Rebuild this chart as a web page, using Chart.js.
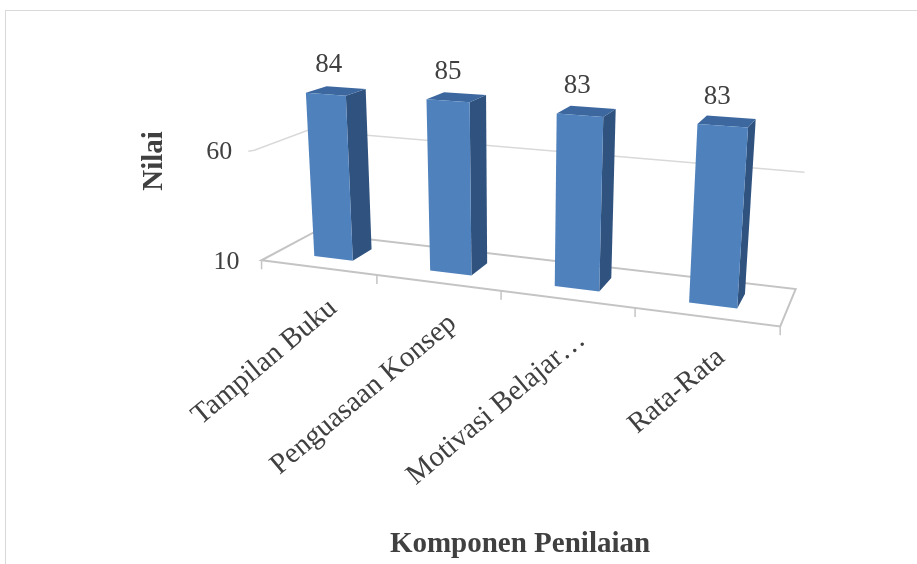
<!DOCTYPE html>
<html>
<head>
<meta charset="utf-8">
<script src="https://cdn.jsdelivr.net/npm/chart.js@4.4.1/dist/chart.umd.min.js"></script>
<style>
    html, body { margin: 0; padding: 0; background: #fff; }
    #wrap { width: 917px; height: 564px; }
</style>
</head>
<body>
<div id="wrap"><canvas id="chart" width="917" height="564"></canvas></div>
<script>
// data
const categories = ['Tampilan Buku', 'Penguasaan Konsep', 'Motivasi Belajar…', 'Rata-Rata'];
const nilai = [84, 85, 83, 83];
const yMin = 10;
const yMax = 100;
const yTicks = [10, 60];
const yTitle = 'Nilai';
const xTitle = 'Komponen Penilaian';

const COLORS = {
    front: '#4f81bd',
    side: '#30527f',
    top: '#3c679f',
    grid: '#d9d9d9',
    floor: '#c4c4c4',
    text: '#404040',
    border: '#d9d9d9'
};
const FONT = '"Liberation Serif", "Times New Roman", serif';

// bar depth inside the floor (0 = front edge, 1 = back wall)
const BAR_Z = [0.3, 0.7];

// perspective calibration: world (x in category units, y 0..1 of value range, z depth) -> screen px
const calib = [
    [0, 0, 0, 262, 260],
    [1, 0, 0, 376, 274.7],
    [2, 0, 0, 500, 290.8],
    [3, 0, 0, 633, 308],
    [4, 0, 0, 780, 327],
    [0, 0, 1, 312.5, 232.5],
    [4, 0, 1, 796.5, 288.5],
    [0, 5 / 9, 0, 253, 151],
    [0, 5 / 9, 1, 307, 131.5],
    [4, 5 / 9, 1, 803, 172],
    // bar corners (front-left, top and bottom)
    [0.33, 74 / 90, 0.3, 307, 91],
    [0.33, 0, 0.3, 316, 256],
    [1.33, 75 / 90, 0.3, 427, 98],
    [1.33, 0, 0.3, 431, 270],
    [2.33, 73 / 90, 0.3, 557, 117],
    [2.33, 0, 0.3, 555, 286],
    [3.33, 73 / 90, 0.3, 698, 122],
    [3.33, 0, 0.3, 691, 303]
];

// least squares camera fit (DLT, p12 = 1)
function fitCamera(pts) {
    const A = [], b = [];
    pts.forEach(([X, Y, Z, u0, v0]) => {
        const u = (u0 - 500) / 300, v = (v0 - 250) / 300;
        A.push([X, Y, Z, 1, 0, 0, 0, 0, -u * X, -u * Y, -u * Z]); b.push(u);
        A.push([0, 0, 0, 0, X, Y, Z, 1, -v * X, -v * Y, -v * Z]); b.push(v);
    });
    const n = 11;
    const M = [];
    for (let i = 0; i < n; i++) {
        const row = new Array(n + 1).fill(0);
        for (let j = 0; j < n; j++) for (let k = 0; k < A.length; k++) row[j] += A[k][i] * A[k][j];
        for (let k = 0; k < A.length; k++) row[n] += A[k][i] * b[k];
        M.push(row);
    }
    for (let c = 0; c < n; c++) {
        let p = c;
        for (let r = c + 1; r < n; r++) if (Math.abs(M[r][c]) > Math.abs(M[p][c])) p = r;
        [M[c], M[p]] = [M[p], M[c]];
        for (let r = 0; r < n; r++) {
            if (r === c) continue;
            const f = M[r][c] / M[c][c];
            for (let k = c; k <= n; k++) M[r][k] -= f * M[c][k];
        }
    }
    return M.map((row, i) => row[n] / row[i]);
}

const CAM = fitCamera(calib);

function project(X, Y, Z) {
    const P = CAM;
    const w = P[8] * X + P[9] * Y + P[10] * Z + 1;
    return [
        (P[0] * X + P[1] * Y + P[2] * Z + P[3]) / w * 300 + 500,
        (P[4] * X + P[5] * Y + P[6] * Z + P[7]) / w * 300 + 250
    ];
}

// chart pixel -> world coords via the chart's scales
function worldX(chart, px) {
    const xs = chart.scales.x;
    return (px - xs.left) / xs.width * categories.length;
}
function worldY(chart, py) {
    const ys = chart.scales.y;
    return (ys.bottom - py) / ys.height;
}

function poly(ctx, pts, fill, stroke, lw) {
    ctx.beginPath();
    pts.forEach((p, i) => i ? ctx.lineTo(p[0], p[1]) : ctx.moveTo(p[0], p[1]));
    ctx.closePath();
    if (fill) { ctx.fillStyle = fill; ctx.fill(); }
    if (stroke) { ctx.strokeStyle = stroke; ctx.lineWidth = lw || 1; ctx.stroke(); }
}

function line(ctx, a, b) {
    ctx.beginPath();
    ctx.moveTo(a[0], a[1]);
    ctx.lineTo(b[0], b[1]);
    ctx.stroke();
}

const perspective3d = {
    id: 'perspective3d',
    beforeDatasetsDraw(chart) {
        const ctx = chart.ctx;
        const n = categories.length;
        const ys = chart.scales.y;
        ctx.save();

        // outer border
        ctx.strokeStyle = COLORS.border;
        ctx.lineWidth = 1;
        ctx.strokeRect(5.5, 10.5, 1000, 1000);

        // wall gridlines (left wall + back wall)
        ys.ticks.forEach(t => {
            const wy = worldY(chart, ys.getPixelForValue(t.value));
            if (wy <= 0.001) return;
            ctx.strokeStyle = COLORS.grid;
            ctx.lineWidth = 1.5;
            const a = project(0, wy, 0), b = project(0, wy, 1), c = project(n, wy, 1);
            ctx.beginPath();
            ctx.moveTo(a[0] - 6, a[1] + 1);
            ctx.lineTo(a[0], a[1]);
            ctx.lineTo(b[0], b[1]);
            ctx.lineTo(c[0], c[1]);
            ctx.stroke();
        });

        // floor
        const f0 = project(0, 0, 0), f1 = project(n, 0, 0), f2 = project(n, 0, 1), f3 = project(0, 0, 1);
        poly(ctx, [f0, f1, f2, f3], null, COLORS.floor, 2);

        // category tick marks on the front edge
        ctx.strokeStyle = COLORS.floor;
        ctx.lineWidth = 1.5;
        for (let i = 0; i <= n; i++) {
            const px = chart.scales.x.left + chart.scales.x.width * i / n;
            const p = project(worldX(chart, px), 0, 0);
            line(ctx, p, [p[0], p[1] + 9]);
        }

        // y tick labels
        ctx.fillStyle = COLORS.text;
        ctx.font = '26px ' + FONT;
        ctx.textAlign = 'right';
        ctx.textBaseline = 'middle';
        ys.ticks.forEach(t => {
            const wy = worldY(chart, ys.getPixelForValue(t.value));
            const p = project(0, wy, 0);
            ctx.fillText(String(t.value), p[0] - 22, p[1] + 2);
        });
        ctx.restore();
    },
    afterDatasetsDraw(chart) {
        const ctx = chart.ctx;
        const meta = chart.getDatasetMeta(0);
        ctx.save();

        meta.data.forEach((bar, i) => {
            const x0 = worldX(chart, bar.x - bar.width / 2);
            const x1 = worldX(chart, bar.x + bar.width / 2);
            const y0 = Math.max(0, worldY(chart, bar.base));
            const y1 = worldY(chart, bar.y);
            const [z0, z1] = BAR_Z;
            // right side
            poly(ctx, [project(x1, y0, z0), project(x1, y0, z1), project(x1, y1, z1), project(x1, y1, z0)], COLORS.side);
            // top
            poly(ctx, [project(x0, y1, z0), project(x1, y1, z0), project(x1, y1, z1), project(x0, y1, z1)], COLORS.top);
            // front
            poly(ctx, [project(x0, y0, z0), project(x1, y0, z0), project(x1, y1, z0), project(x0, y1, z0)], COLORS.front);

            // value label (drifts slightly left across the plot, like the source)
            const tp = project((x0 + x1) / 2, y1, z0);
            ctx.fillStyle = COLORS.text;
            ctx.font = '27px ' + FONT;
            ctx.textAlign = 'center';
            ctx.textBaseline = 'middle';
            ctx.fillText(String(nilai[i]), tp[0] + 3 - 2.8 * i, tp[1] - 29);

            // category label
            const cp = project(worldX(chart, bar.x), 0, 0);
            ctx.save();
            ctx.font = '29px ' + FONT;
            ctx.translate(cp[0] + 15, cp[1] + 37);
            ctx.rotate(-40 * Math.PI / 180);
            ctx.textAlign = 'right';
            ctx.fillText(categories[i], 0, 0);
            ctx.restore();
        });

        // axis titles
        ctx.fillStyle = COLORS.text;
        ctx.font = 'bold 29px ' + FONT;
        ctx.textAlign = 'center';
        ctx.textBaseline = 'middle';
        ctx.fillText(xTitle, 520, 545);
        ctx.save();
        ctx.translate(155, 161);
        ctx.rotate(-Math.PI / 2);
        ctx.fillText(yTitle, 0, 0);
        ctx.restore();

        ctx.restore();
    }
};

new Chart(document.getElementById('chart'), {
    type: 'bar',
    data: {
        labels: categories,
        datasets: [{
            data: nilai,
            base: yMin,
            backgroundColor: 'rgba(0,0,0,0)',
            borderWidth: 0,
            barPercentage: 0.34,
            categoryPercentage: 1
        }]
    },
    options: {
        responsive: false,
        devicePixelRatio: 1,
        animation: false,
        layout: { padding: 0 },
        plugins: {
            legend: { display: false },
            tooltip: { enabled: false }
        },
        scales: {
            x: { display: false },
            y: {
                display: false,
                min: yMin,
                max: yMax,
                afterBuildTicks: s => {
                    s.ticks = yTicks.map(v => ({ value: v }));
                }
            }
        }
    },
    plugins: [perspective3d]
});
</script>
</body>
</html>
